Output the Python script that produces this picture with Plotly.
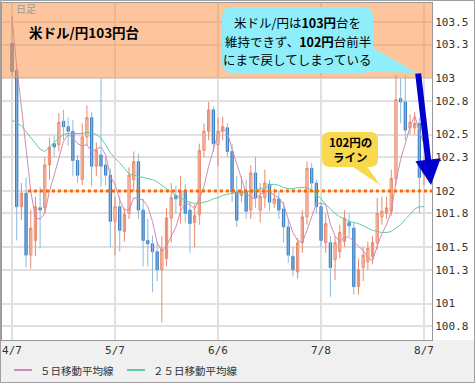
import plotly.graph_objects as go
import pandas as pd

# ---------------- data ----------------
dates = [d.strftime("%-m/%-d") for d in pd.bdate_range("2014-04-07", "2014-08-07")]
tick_dates = ["4/7", "5/7", "6/6", "7/8", "8/7"]

opens = [103.31, 103.07, 101.86, 101.98, 101.43, 101.56, 101.85, 101.85, 102.23, 102.42,
         102.41, 102.62, 102.57, 102.53, 102.27, 102.10, 102.48, 102.65, 102.22, 102.32,
         102.23, 102.14, 101.73, 101.86, 101.64, 101.80, 102.10, 102.26, 101.83, 101.56,
         101.53, 101.46, 101.30, 101.40, 101.76, 101.96, 101.87, 102.00, 101.83, 101.72,
         101.79, 102.36, 102.53, 102.72, 102.41, 102.53, 102.56, 102.35, 101.99, 101.96,
         102.00, 101.83, 102.16, 101.83, 101.94, 102.06, 101.89, 101.93, 101.84, 101.68,
         101.42, 101.28, 101.54, 101.77, 102.20, 102.07, 101.86, 101.54, 101.54, 101.39,
         101.46, 101.55, 101.72, 101.67, 101.15, 101.32, 101.37, 101.42, 101.54, 101.77,
         101.80, 101.82, 102.11, 102.82, 102.79, 102.56, 102.56, 102.60, 102.15]
highs = [103.55, 103.10, 102.07, 102.12, 101.83, 101.95, 102.04, 102.30, 102.47, 102.49,
         102.69, 102.72, 102.65, 102.63, 102.32, 102.60, 102.76, 102.70, 102.43, 103.00,
         102.30, 102.20, 101.95, 101.95, 101.85, 102.21, 102.35, 102.33, 101.93, 101.75,
         101.60, 101.55, 101.60, 101.85, 102.07, 102.05, 102.13, 102.06, 101.90, 101.88,
         102.42, 102.60, 102.79, 102.75, 102.65, 102.66, 102.60, 102.42, 102.13, 102.13,
         102.10, 102.23, 102.30, 102.07, 102.19, 102.10, 102.02, 102.00, 101.90, 101.75,
         101.50, 101.58, 101.83, 102.26, 102.25, 102.10, 101.90, 101.80, 101.60, 101.60,
         101.70, 101.83, 101.80, 101.72, 101.40, 101.50, 101.55, 101.60, 101.94, 101.95,
         101.95, 102.19, 103.03, 103.00, 103.03, 102.68, 102.70, 102.65, 102.30]
lows = [103.02, 101.56, 101.74, 101.32, 101.31, 101.42, 101.49, 101.80, 102.10, 102.30,
        102.35, 102.45, 102.40, 102.13, 102.07, 102.05, 102.40, 102.04, 102.13, 102.04,
        102.05, 101.50, 101.43, 101.46, 101.55, 101.75, 102.00, 101.75, 101.33, 101.33,
        101.10, 101.20, 100.83, 101.33, 101.54, 101.80, 101.71, 101.72, 101.45, 101.50,
        101.70, 102.30, 102.45, 102.35, 102.22, 102.45, 102.30, 101.90, 101.68, 101.90,
        101.75, 101.75, 101.85, 101.72, 101.85, 101.82, 101.85, 101.75, 101.54, 101.36,
        101.24, 101.22, 101.45, 101.70, 102.00, 101.80, 101.50, 101.45, 101.06, 101.21,
        101.40, 101.50, 101.60, 101.08, 101.08, 101.20, 101.30, 101.35, 101.48, 101.70,
        101.75, 101.78, 102.05, 102.60, 102.45, 102.50, 102.50, 101.80, 102.05]
closes = [103.06, 101.86, 101.98, 101.43, 101.67, 101.86, 101.83, 102.23, 102.39, 102.39,
          102.61, 102.57, 102.53, 102.27, 102.14, 102.48, 102.65, 102.22, 102.36, 102.22,
          102.14, 101.73, 101.86, 101.65, 101.79, 102.14, 102.26, 101.83, 101.56, 101.53,
          101.46, 101.30, 101.48, 101.76, 101.94, 101.93, 102.00, 101.80, 101.71, 101.78,
          102.36, 102.53, 102.72, 102.42, 102.53, 102.57, 102.35, 101.99, 101.74, 102.00,
          101.82, 102.16, 101.94, 101.95, 102.07, 101.90, 101.93, 101.83, 101.68, 101.43,
          101.30, 101.54, 101.77, 102.20, 102.07, 101.86, 101.56, 101.71, 101.32, 101.54,
          101.63, 101.76, 101.69, 101.15, 101.30, 101.43, 101.49, 101.54, 101.80, 101.82,
          101.85, 102.11, 102.81, 102.79, 102.54, 102.61, 102.60, 102.12, 102.22]
ma5 = [103.55, 103.10, 102.75, 102.40, 102.00, 101.76, 101.75, 101.80, 102.00, 102.14,
       102.29, 102.44, 102.50, 102.47, 102.42, 102.40, 102.41, 102.35, 102.37, 102.39,
       102.32, 102.13, 102.06, 101.92, 101.83, 101.83, 101.94, 101.93, 101.92, 101.86,
       101.73, 101.54, 101.47, 101.51, 101.59, 101.68, 101.82, 101.89, 101.88, 101.84,
       101.93, 102.04, 102.22, 102.36, 102.51, 102.55, 102.52, 102.37, 102.24, 102.13,
       101.98, 101.94, 101.93, 101.97, 101.99, 102.00, 101.96, 101.94, 101.88, 101.75,
       101.63, 101.56, 101.54, 101.65, 101.78, 101.89, 101.89, 101.88, 101.70, 101.60,
       101.55, 101.59, 101.59, 101.55, 101.51, 101.47, 101.41, 101.38, 101.51, 101.62,
       101.70, 101.82, 102.08, 102.28, 102.42, 102.57, 102.67, 102.53, 102.42]
ma25 = [102.63, 102.60, 102.58, 102.53, 102.48, 102.42, 102.37, 102.35, 102.39, 102.43,
        102.47, 102.50, 102.51, 102.51, 102.51, 102.51, 102.52, 102.52, 102.50, 102.47,
        102.41, 102.34, 102.29, 102.25, 102.20, 102.15, 102.14, 102.13, 102.12, 102.11,
        102.10, 102.08, 102.05, 102.02, 101.99, 101.96, 101.94, 101.92, 101.90, 101.89,
        101.89, 101.90, 101.91, 101.93, 101.94, 101.96, 101.97, 101.98, 101.98, 101.98,
        101.99, 102.00, 102.01, 102.02, 102.03, 102.05, 102.06, 102.05, 102.03, 102.02,
        102.02, 102.03, 102.03, 102.03, 102.01, 101.97, 101.93, 101.88, 101.84, 101.80,
        101.77, 101.75, 101.73, 101.72, 101.71, 101.69, 101.67, 101.65, 101.64, 101.63,
        101.63, 101.64, 101.67, 101.70, 101.75, 101.79, 101.84, 101.86, 101.86]
y_ticks = [100.8, 101, 101.3, 101.5, 101.8, 102, 102.3, 102.5, 102.8, 103, 103.3, 103.5]
y_tick_labels = ["100.8", "101", "101.3", "101.5", "101.8", "102", "102.3", "102.5",
                 "102.8", "103", "103.3", "103.5"]
line_level = 102.0
zone_level = 103.0
legend_names = ["５日移動平均線", "２５日移動平均線"]

# ---------------- styling / layout helpers ----------------
W, H = 475, 383
L, R, T, B = 2, 432, 3, 340
UP = "#e9896c"
DN_BODY = "#3b7fc4"
DN_WICK = "#8db9de"
C_MA5 = "#d28ab4"
C_MA25 = "#5ccf9c"
FONT_JP = "Noto Sans CJK JP"
FONT_MONO = "DejaVu Sans Mono"


def px(x):
    return (x - L) / (R - L)


def py(y):
    return 1 - (y - T) / (B - T)


def rrect(x0, y0, x1, y1, r):
    pts = [("M", x0 + r, y0), ("L", x1 - r, y0), ("Q", x1, y0, x1, y0 + r),
           ("L", x1, y1 - r), ("Q", x1, y1, x1 - r, y1), ("L", x0 + r, y1),
           ("Q", x0, y1, x0, y1 - r), ("L", x0, y0 + r), ("Q", x0, y0, x0 + r, y0)]
    s = ""
    for p in pts:
        cmd = p[0]
        coords = p[1:]
        parts = []
        for k in range(0, len(coords), 2):
            parts.append(f"{px(coords[k]):.5f},{py(coords[k+1]):.5f}")
        s += cmd + " " + " ".join(parts) + " "
    return s + "Z"


def tri(pts):
    s = "M " + " L ".join(f"{px(a):.5f},{py(b):.5f}" for a, b in pts)
    return s + " Z"


n = len(closes)
xs = list(range(n))

up_wx, up_wy, dn_wx, dn_wy = [], [], [], []
for i in range(n):
    if closes[i] >= opens[i]:
        up_wx += [xs[i], xs[i], None]
        up_wy += [lows[i], highs[i], None]
    else:
        dn_wx += [xs[i], xs[i], None]
        dn_wy += [lows[i], highs[i], None]

body_hi = [max(o, c) for o, c in zip(opens, closes)]
body_lo = [min(o, c) for o, c in zip(opens, closes)]

fig = go.Figure()
fig.add_trace(go.Scatter(x=up_wx, y=up_wy, mode="lines", line=dict(color=UP, width=1),
                         hoverinfo="skip", showlegend=False))
fig.add_trace(go.Scatter(x=dn_wx, y=dn_wy, mode="lines", line=dict(color=DN_WICK, width=1),
                         hoverinfo="skip", showlegend=False))
fig.add_trace(go.Candlestick(
    x=xs, open=opens, high=body_hi, low=body_lo, close=closes,
    increasing=dict(line=dict(color=UP, width=1), fillcolor="white"),
    decreasing=dict(line=dict(color=DN_BODY, width=1), fillcolor=DN_BODY),
    whiskerwidth=0, showlegend=False))
fig.add_trace(go.Scatter(x=xs, y=ma25, mode="lines", line=dict(color=C_MA25, width=1),
                         name=legend_names[1], showlegend=False))
fig.add_trace(go.Scatter(x=xs, y=ma5, mode="lines", line=dict(color=C_MA5, width=1),
                         name=legend_names[0], showlegend=False))

tickvals = [dates.index(d) for d in tick_dates]

shapes = []
# bottom grey band
shapes.append(dict(type="rect", xref="paper", yref="paper", x0=px(0), x1=px(W), y0=py(H), y1=py(B),
                   fillcolor="#f0f0f0", line=dict(width=0), layer="below"))
# 102 dotted line
shapes.append(dict(type="line", xref="x", yref="y", x0=3.4, x1=89.7, y0=line_level, y1=line_level,
                   line=dict(color="#ff6600", width=3, dash="dot"), layer="above"))
# orange zone above 103
shapes.append(dict(type="rect", xref="paper", yref="y", x0=0, x1=1, y0=zone_level, y1=103.669,
                   fillcolor="rgba(250,140,60,0.5)", line=dict(width=0), layer="above"))
# cyan callout
shapes.append(dict(type="path", xref="paper", yref="paper", path=rrect(222, 7, 373, 73, 11),
                   fillcolor="#8eeffa", line=dict(width=0), layer="above"))
shapes.append(dict(type="path", xref="paper", yref="paper", path=tri([(366, 44), (356, 71), (417, 73)]),
                   fillcolor="#8eeffa", line=dict(width=0), layer="above"))
# yellow callout
shapes.append(dict(type="path", xref="paper", yref="paper", path=rrect(322, 132, 378, 167, 8),
                   fillcolor="#f8d84c", line=dict(width=0), layer="above"))
shapes.append(dict(type="path", xref="paper", yref="paper", path=tri([(350, 165), (366, 165), (380, 185)]),
                   fillcolor="#f8d84c", line=dict(width=0), layer="above"))
# legend lines
shapes.append(dict(type="line", xref="paper", yref="paper", x0=px(14), x1=px(32), y0=py(370), y1=py(370),
                   line=dict(color=C_MA5, width=2)))
shapes.append(dict(type="line", xref="paper", yref="paper", x0=px(127), x1=px(145), y0=py(370), y1=py(370),
                   line=dict(color=C_MA25, width=2)))
# outer frame
shapes.append(dict(type="rect", xref="paper", yref="paper", x0=px(0.5), x1=px(W - 0.5), y0=py(H - 0.5), y1=py(0.5),
                   line=dict(color="#a0a0a0", width=1), layer="above"))

annotations = []
annotations.append(dict(xref="paper", yref="paper", x=px(14), y=py(9), xanchor="left", yanchor="middle",
                        text="日足", showarrow=False, font=dict(family=FONT_JP, size=10, color="#a09a98")))
annotations.append(dict(xref="paper", yref="paper", x=px(27), y=py(32), xanchor="left", yanchor="middle",
                        text="<b>米ドル/円103円台</b>", showarrow=False,
                        font=dict(family=FONT_JP, size=13.5, color="black")))
cy_lines = ["米ドル/円は<b>103円</b>台を", "維持できず、<b>102円</b>台前半", "にまで戻してしまっている"]
for k, t in enumerate(cy_lines):
    annotations.append(dict(xref="paper", yref="paper", x=px(297.5), y=py(22.5 + 18.5 * k), xanchor="center",
                            yanchor="middle", borderpad=0, text=t, showarrow=False,
                            font=dict(family=FONT_JP, size=12.5, color="black")))
for k, t in enumerate(["<b>102円の</b>", "<b>ライン</b>"]):
    annotations.append(dict(xref="paper", yref="paper", x=px(350), y=py(141.5 + 15.5 * k), xanchor="center",
                            yanchor="middle", borderpad=0, text=t, showarrow=False,
                            font=dict(family=FONT_JP, size=11.5, color="black")))
# arrow
annotations.append(dict(xref="paper", yref="paper", x=px(431), y=py(185), ax=-13, ay=-113, text="",
                        showarrow=True, arrowhead=2, arrowsize=0.85, arrowwidth=6, arrowcolor="#0000cc",
                        standoff=0, startstandoff=0))
# legend texts
annotations.append(dict(xref="paper", yref="paper", x=px(38), y=py(370), xanchor="left", yanchor="middle",
                        text=legend_names[0], showarrow=False, font=dict(family=FONT_JP, size=10.5, color="#333")))
annotations.append(dict(xref="paper", yref="paper", x=px(151), y=py(370), xanchor="left", yanchor="middle",
                        text=legend_names[1], showarrow=False, font=dict(family=FONT_JP, size=10.5, color="#333")))

fig.update_layout(
    width=W, height=H,
    margin=dict(l=L, r=W - R, t=T, b=H - B, pad=0),
    paper_bgcolor="white", plot_bgcolor="white",
    showlegend=False,
    shapes=shapes, annotations=annotations,
    xaxis=dict(type="linear", range=[-2.14, 89.7], tickvals=tickvals, ticktext=tick_dates,
               showgrid=True, gridcolor="#e0e0e0", gridwidth=2, zeroline=False,
               showline=True, linecolor="#999999", linewidth=1, mirror=True, ticks="",
               tickfont=dict(family=FONT_MONO, size=11, color="#333"),
               rangeslider=dict(visible=False), fixedrange=True),
    yaxis=dict(range=[100.676, 103.669], side="right", tickvals=y_ticks, ticktext=y_tick_labels,
               showgrid=True, gridcolor="#e0e0e0", gridwidth=2, zeroline=False,
               showline=True, linecolor="#999999", linewidth=1, mirror=True, ticks="",
               tickfont=dict(family=FONT_MONO, size=11, color="#333"), fixedrange=True),
)

fig.write_html("out.html", config={"displayModeBar": False},
               post_script="document.body.style.margin='0';document.body.style.padding='0';")
